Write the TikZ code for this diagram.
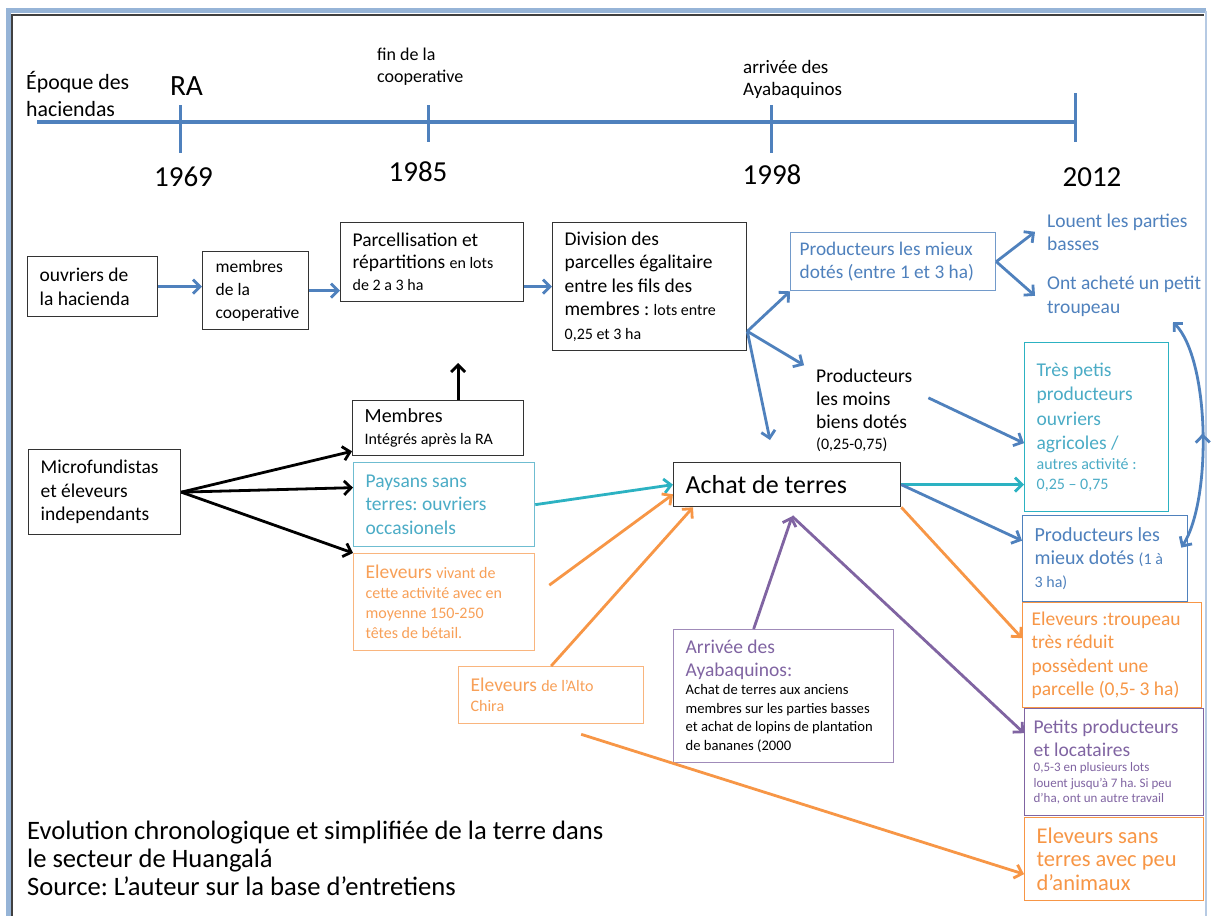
\documentclass[tikz,border=0pt]{standalone}
\usepackage{fontspec}
\setmainfont{Carlito}
\usetikzlibrary{arrows.meta, calc, decorations.markings}

\definecolor{tlblue}{RGB}{79,129,189}
\definecolor{aqua}{RGB}{75,172,198}
\definecolor{aquadark}{RGB}{44,178,194}
\definecolor{orng}{RGB}{247,150,70}
\definecolor{purp}{RGB}{128,100,162}
\definecolor{framecol}{RGB}{150,180,215}

\hyphenpenalty=10000
\frenchspacing
\newcommand{\fsz}[2]{\fontsize{#1}{#2}\selectfont}
\newcommand{\smtxt}[1]{{\fontsize{16}{20}\selectfont #1}}

\begin{document}
\begin{tikzpicture}[x=1pt, y=-1pt,
    box/.style={draw=black!80, line width=1.3pt, anchor=north west, align=flush left,
        inner xsep=12pt, inner ysep=3pt, font=\fsz{19.5}{23.5}},
    txt/.style={anchor=base west, align=flush left, inner xsep=12pt, inner ysep=3pt,
        font=\fsz{19.5}{23}},
    year/.style={anchor=base, inner sep=0pt, font=\fsz{29}{34}},
    tline/.style={tlblue, line width=3.5pt},
    tip/.style={-{Straight Barb[length=7pt,width=14pt]}},
    barrow/.style={tip, tlblue, line width=2.8pt},
    karrow/.style={tip, black, line width=2.8pt},
    carrow/.style={tip, aquadark, line width=2.8pt},
    oarrow/.style={tip, orng, line width=2.8pt},
    parrow/.style={tip, purp, line width=2.8pt}]

    \useasboundingbox (0,0) rectangle (1211,916);
    \clip (0,0) rectangle (1211,916);
    \fill[white] (0,0) rectangle (1211,916);

    % Frame
    \draw[framecol, line width=5pt] (8.5,940) |- (1206,10.5);
    \draw[framecol!70, line width=1.5pt] (1206,10.5) -- (1206,940);
    \draw[black!75, line width=1.2pt] (12,940) |- (1204,15);

    % Timeline
    \draw[tline] (37,122) -- (1075,122);
    \foreach \x/\a/\b in {180/105/153, 428/105/142, 771/105/153, 1075/93/142}
        \draw[tline, line width=3pt] (\x,\a) -- (\x,\b);

    \node[txt, inner sep=0pt, text width=130pt, font=\fsz{21.8}{27}] (epoque) at (26,89) {Époque des\\haciendas};
    \node[anchor=base, inner sep=0pt, font=\fsz{29.4}{34}] (ra) at (186.5,95) {RA};
    \node[txt, inner sep=0pt, text width=120pt, font=\fsz{18}{22}] (finlabel) at (377,60) {fin de la\\cooperative};
    \node[txt, inner sep=0pt, text width=130pt, font=\fsz{19}{22}] (arrlabel) at (743,73) {arrivée des\\Ayabaquinos};

    \node[year] (y1969) at (183.5,186) {1969};
    \node[year] (y1985) at (418,181) {1985};
    \node[year] (y1998) at (772,184) {1998};
    \node[year] (y2012) at (1092,186) {2012};

    % First row
    \node[box, minimum width=130pt, minimum height=60pt, text width=106pt] (ouvriers) at (27,256) {ouvriers de\\la hacienda};
    \node[box, minimum width=106pt, minimum height=78pt, text width=80pt, inner xsep=13pt, font=\fsz{17.5}{23}] (membres) at (202,251) {membres\\de la\\cooperative};
    \node[box, minimum width=183pt, minimum height=79pt, text width=159pt, font=\fsz{19.5}{22}] (parcel) at (340,222) {Parcellisation et\\répartitions \smtxt{en lots}\\\smtxt{de 2 a 3 ha}};
    \node[box, minimum width=194pt, minimum height=128pt, text width=170pt] (division) at (552,222) {Division des\\parcelles égalitaire\\entre les fils des\\membres : \smtxt{lots entre}\\\smtxt{0,25 et 3 ha}};
    \node[box, draw=tlblue!80, text=tlblue, minimum width=205pt, minimum height=58pt, text width=187pt, inner xsep=9pt, font=\fsz{19.3}{23}] (mieux) at (790,232) {Producteurs les mieux\\dotés (entre 1 et 3 ha)};
    \node[txt, text=tlblue, text width=170pt] (louent) at (1035,227) {Louent les parties\\basses};
    \node[txt, text=tlblue, text width=170pt, font=\fsz{19.5}{24}] (troupeau) at (1035,289) {Ont acheté un petit\\troupeau};
    \node[txt, text width=100pt] (moins) at (804,382) {Producteurs\\les moins\\biens dotés\par\fsz{16}{21}(0,25-0,75)\par};

    % Second row
    \node[box, minimum width=171pt, minimum height=55pt, text width=147pt, font=\fsz{20}{22}] (integres) at (352,400) {Membres\par\fsz{16}{22}Intégrés après la RA\par};
    \node[box, minimum width=152pt, minimum height=85pt, text width=128pt] (micro) at (28,449) {Microfundistas\\et éleveurs\\independants};
    \node[box, draw=aqua!80, text=aqua, minimum width=181pt, minimum height=84pt, text width=157pt] (paysans) at (353,462) {Paysans sans\\terres: ouvriers\\occasionels};
    \node[box, draw=orng!70, text=orng!90, minimum width=181pt, minimum height=97pt, text width=157pt, font=\fsz{19.5}{20}] (eleveurs) at (353,553) {Eleveurs \smtxt{vivant de}\\\smtxt{cette activité avec en}\\\smtxt{moyenne 150-250}\\\smtxt{têtes de bétail.}};
    \node[box, draw=orng!70, text=orng!90, minimum width=185pt, minimum height=57pt, text width=161pt, font=\fsz{19.5}{20}] (alto) at (458,666) {Eleveurs \smtxt{de l'Alto}\\\smtxt{Chira}};
    \node[box, minimum width=227pt, minimum height=44pt, text width=203pt, font=\fsz{26}{30}] (achat) at (673,462) {Achat de terres};
    \node[box, draw=purp!75, text=purp, minimum width=220pt, minimum height=133pt, text width=204pt, inner xsep=8pt, font=\fsz{19.5}{23}] (arrivee) at (673,629) {\hspace*{4pt}Arrivée des\\\hspace*{4pt}Ayabaquinos:\par\leavevmode\color{black}\fsz{14.6}{18.5}\hspace*{4pt}Achat de terres aux anciens\\\hspace*{4pt}membres sur les parties basses\\\hspace*{4pt}et achat de lopins de plantation\\\hspace*{4pt}de bananes (2000\par};

    % Right column
    \node[box, draw=aquadark, text=aqua, minimum width=144pt, minimum height=169pt, text width=120pt, font=\fsz{19.5}{24.5}] (tpp) at (1024,342) {Très petis\\producteurs\\ouvriers\\agricoles /\par\fsz{16}{20}autres activité :\\0,25 -- 0,75\par};
    \node[box, draw=tlblue, text=tlblue, minimum width=165pt, minimum height=86pt, text width=141pt, font=\fsz{20}{23}] (pmd) at (1022,515) {Producteurs les\\mieux dotés \smtxt{(1 à}\\\smtxt{3 ha)}};
    \node[box, draw=orng, text=orng, minimum width=179pt, minimum height=105pt, text width=161pt, inner xsep=9pt] (reduit) at (1022,602) {Eleveurs :troupeau\\très réduit\\possèdent une\\parcelle (0,5- 3 ha)};
    \node[box, draw=purp, text=purp, minimum width=179pt, minimum height=107pt, text width=161pt, inner xsep=9pt, font=\fsz{19.5}{22.5}] (petits) at (1024,708) {Petits producteurs\\et locataires\par\fsz{13}{15.5}0,5-3 en plusieurs lots\\louent jusqu'à 7 ha. Si peu\\d'ha, ont un autre travail\par};
    \node[box, draw=orng, text=orng, minimum width=179pt, minimum height=83pt, text width=155pt, font=\fsz{22.5}{23.5}] (sans) at (1024,817) {Eleveurs sans\\terres avec peu\\d'animaux};

    % Caption
    \node[txt, inner sep=0pt, text width=700pt, font=\fsz{26.6}{28}] (legende) at (27,839) {Evolution chronologique et simplifiée de la terre dans\\le secteur de Huangalá\\Source: L'auteur sur la base d'entretiens};

    % Arrows, first row
    \draw[barrow] (ouvriers) -- (ouvriers -| membres.west);
    \draw[barrow] (membres) -- (membres -| parcel.west);
    \draw[barrow] (parcel.east |- division.west) -- (division.west);
    \coordinate (fan) at ([yshift=20pt]division.south east);
    \coordinate (dtip) at (770,440);
    \draw[barrow] (fan) -- (mieux.south west);
    \draw[barrow] (fan) -- (moins.north west);
    \draw[barrow] (fan) -- (dtip);
    \draw[barrow] (mieux.east) -- (louent.west);
    \draw[barrow] (mieux.east) -- (troupeau.west);
    \draw[barrow] ([yshift=12pt]moins.east) -- ([yshift=-16pt]tpp.west);

    % Arrows, microfundistas
    \draw[karrow] (micro.east) -- ([yshift=5pt]integres.south west);
    \draw[karrow] (micro.east) -- ([yshift=17pt]paysans.west);
    \draw[karrow] (micro.east) -- (eleveurs.north west);
    \draw[karrow] ([xshift=20pt]integres.north) -- ++(0,-37);

    % Arrows to and from Achat de terres
    \draw[carrow] (paysans.east) -- (achat.west);
    \draw[oarrow] ([shift={(14pt,17pt)}]eleveurs.east) -- ([yshift=13pt]achat.south west);
    \draw[oarrow] (alto.north) -- ([xshift=20pt]achat.south west);
    \draw[oarrow] ([shift={(30pt,-10pt)}]alto.south) -- ([yshift=-15pt]sans.west);
    \coordinate (ptip) at ([shift={(5pt,-9pt)}]achat.south);
    \draw[parrow] ([xshift=-30pt]arrivee.north) -- (ptip);
    \draw[parrow] (ptip) -- ([yshift=29pt]petits.west);
    \draw[carrow] (achat.east) -- (achat.east -| tpp.west);
    \draw[barrow] (achat.east) -- ([yshift=18pt]pmd.west);
    \draw[oarrow] (achat.south east) -- ([yshift=17pt]reduit.west);

    % Curved arrow on the right
    \coordinate (ctop) at (1173,322);
    \coordinate (cbot) at ([shift={(-7pt,11pt)}]pmd.east);
    \draw[{Straight Barb[length=6pt,width=12pt]}-{Straight Barb[length=7pt,width=14pt]}, tlblue, line width=2.8pt,
        postaction={decorate}, decoration={markings, mark=at position 0.5 with {\arrowreversed{Straight Barb[length=7pt,width=14pt]}}}]
        (ctop) .. controls (1210,360) and (1212,500) .. (cbot);
\end{tikzpicture}
\end{document}
